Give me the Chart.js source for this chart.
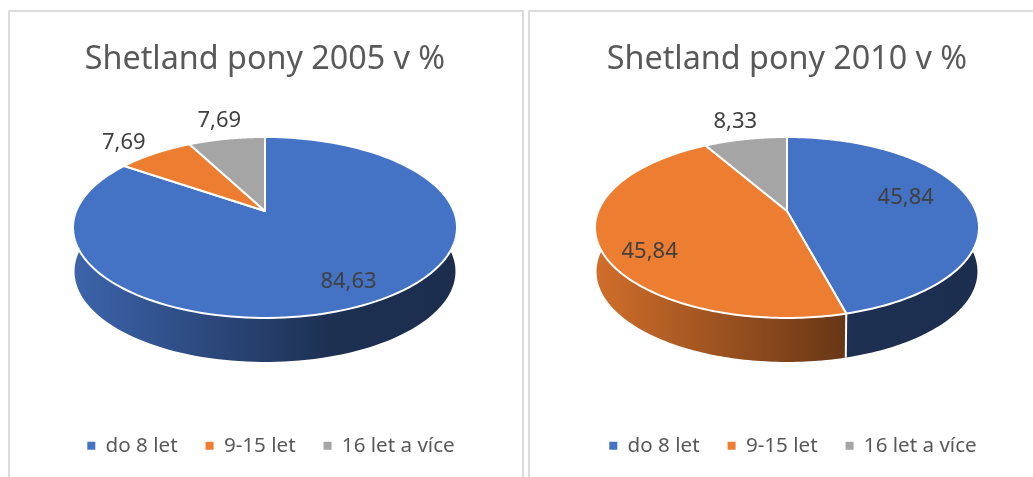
<!DOCTYPE html>
<html>
<head>
<meta charset="utf-8">
<title>Shetland pony</title>
<script src="https://cdn.jsdelivr.net/npm/chart.js@4"></script>
<style>
    html, body { margin: 0; padding: 0; background: #fff; overflow: hidden; }
    body { position: relative; width: 1033px; height: 477px; }
    .panel { position: absolute; top: 10px; height: 480px; border: 2px solid #dcdcdc; box-sizing: border-box; }
    .box { position: absolute; top: 0; height: 477px; }
</style>
</head>
<body>
<div class="panel" style="left:8px;width:516px"></div>
<div class="panel" style="left:528px;width:520px"></div>
<div class="box" style="left:0;width:530px"><canvas id="pie2005"></canvas></div>
<div class="box" style="left:529px;width:516px"><canvas id="pie2010"></canvas></div>
<script>
const categories = ["do 8 let", "9-15 let", "16 let a více"];
const values2005 = [84.63, 7.69, 7.69];
const values2010 = [45.84, 45.84, 8.33];
const sliceColors = ["#4472C4", "#ED7D31", "#A5A5A5"];

const font_family = "'Noto Sans', sans-serif";

// radius along the slice, then pixel nudge, for each data label
const labelSpots2005 = [[0.8, 3, 0], [1.3, -3, 4], [1.33, 3, 1]];
const labelSpots2010 = [[0.6, 8, -7], [0.7, -9, 16], [1.3, 0, 0]];

const tilt = { apexY: 211, flatten: 0.4635, perspective: 0.182, depth: 44 };

// Disc point (angle, radius share) to screen, near edge comes out bigger
function project(arc, angle, share, drop) {
    let u = Math.cos(angle) * share,
        v = Math.sin(angle) * share,
        w = 1 - tilt.perspective * v,
        shrink = drop ? 0.992 : 1;
    return {
        x: arc.x + arc.outerRadius * u / w * shrink,
        y: tilt.apexY + arc.outerRadius * tilt.flatten * v / w + (drop || 0)
    };
}

function shade(hex, k) {
    let n = parseInt(hex.slice(1), 16);
    return "rgb(" + Math.round((n >> 16) * k) + "," + Math.round(((n >> 8) & 255) * k) + "," + Math.round((n & 255) * k) + ")";
}

function rimPoints(arc, drop) {
    let points = [], steps = 160;
    for (let i = 0; i <= steps; i++) {
        points.push(project(arc, arc.startAngle + (arc.endAngle - arc.startAngle) * i / steps, 1, drop));
    }
    return points;
}

function tracePoints(ctx, points) {
    points.forEach(function (p) {
        ctx.lineTo(p.x, p.y);
    });
}

// Draws the arcs the library worked out as a tilted disc with a rim
const pie3d = {
    id: "pie3d",
    afterLayout: function (chart) {
        chart.legend.left += 6;
        chart.legend.right += 6;
        chart.legend.top -= 11;
        chart.legend.bottom -= 11;
    },
    beforeDatasetDraw: function (chart, args) {
        let ctx = chart.ctx, arcs = args.meta.data, colors = chart.data.datasets[0].backgroundColor;
        ctx.save();
        ctx.lineJoin = "round";

        // rim first, top face covers the back of it
        arcs.forEach(function (arc, i) {
            let left = arc.x - arc.outerRadius * 1.017,
                grad = ctx.createLinearGradient(left, 0, left + arc.outerRadius * 2.034, 0);
            grad.addColorStop(0, shade(colors[i], 0.88));
            grad.addColorStop(0.67, shade(colors[i], 0.42));
            grad.addColorStop(1, shade(colors[i], 0.4));
            let top = rimPoints(arc), bottom = rimPoints(arc, tilt.depth).reverse();
            ctx.beginPath();
            tracePoints(ctx, top.concat(bottom));
            ctx.closePath();
            ctx.fillStyle = grad;
            ctx.fill();
        });

        // white seam where two slices meet on the rim
        arcs.forEach(function (arc) {
            let a = project(arc, arc.endAngle, 1), b = project(arc, arc.endAngle, 1, tilt.depth);
            if (Math.sin(arc.endAngle) > -0.2) {
                ctx.beginPath();
                ctx.moveTo(a.x, a.y);
                ctx.lineTo(b.x, b.y);
                ctx.strokeStyle = "#fff";
                ctx.lineWidth = 2;
                ctx.stroke();
            }
        });

        arcs.forEach(function (arc, i) {
            let apex = project(arc, 0, 0);
            ctx.beginPath();
            ctx.moveTo(apex.x, apex.y);
            tracePoints(ctx, rimPoints(arc));
            ctx.closePath();
            ctx.fillStyle = colors[i];
            ctx.strokeStyle = "#fff";
            ctx.lineWidth = 2;
            ctx.fill();
            ctx.stroke();
        });

        // data labels
        let spots = chart.options.plugins.pie3d.labelSpots;
        ctx.font = "22px " + font_family;
        ctx.fillStyle = "#404040";
        ctx.textAlign = "center";
        ctx.textBaseline = "middle";
        arcs.forEach(function (arc, i) {
            let p = project(arc, (arc.startAngle + arc.endAngle) / 2, spots[i][0]),
                text = chart.data.datasets[0].data[i].toFixed(2).replace(".", ",");
            ctx.fillText(text, p.x + spots[i][1], p.y + spots[i][2]);
        });
        ctx.restore();
        return false;
    }
};

function drawPie(id, name, values, spots) {
    new Chart(document.getElementById(id), {
        type: "pie",
        data: {
            labels: categories,
            datasets: [{ data: values, backgroundColor: sliceColors, borderWidth: 0 }]
        },
        options: {
            responsive: true,
            maintainAspectRatio: false,
            animation: false,
            radius: 188.8,
            plugins: {
                pie3d: { labelSpots: spots },
                tooltip: { enabled: false },
                title: {
                    display: true,
                    text: name,
                    color: "#595959",
                    font: { family: font_family, size: 32.3, weight: "normal" },
                    padding: { top: 40, bottom: 10 }
                },
                legend: {
                    position: "bottom",
                    labels: {
                        usePointStyle: true,
                        pointStyle: "rect",
                        boxWidth: 8,
                        boxHeight: 8,
                        padding: 28,
                        color: "#595959",
                        font: { family: font_family, size: 20.6 }
                    }
                }
            }
        },
        plugins: [pie3d]
    });
}

drawPie("pie2005", "Shetland pony 2005 v %", values2005, labelSpots2005);
drawPie("pie2010", "Shetland pony 2010 v %", values2010, labelSpots2010);
</script>
</body>
</html>
